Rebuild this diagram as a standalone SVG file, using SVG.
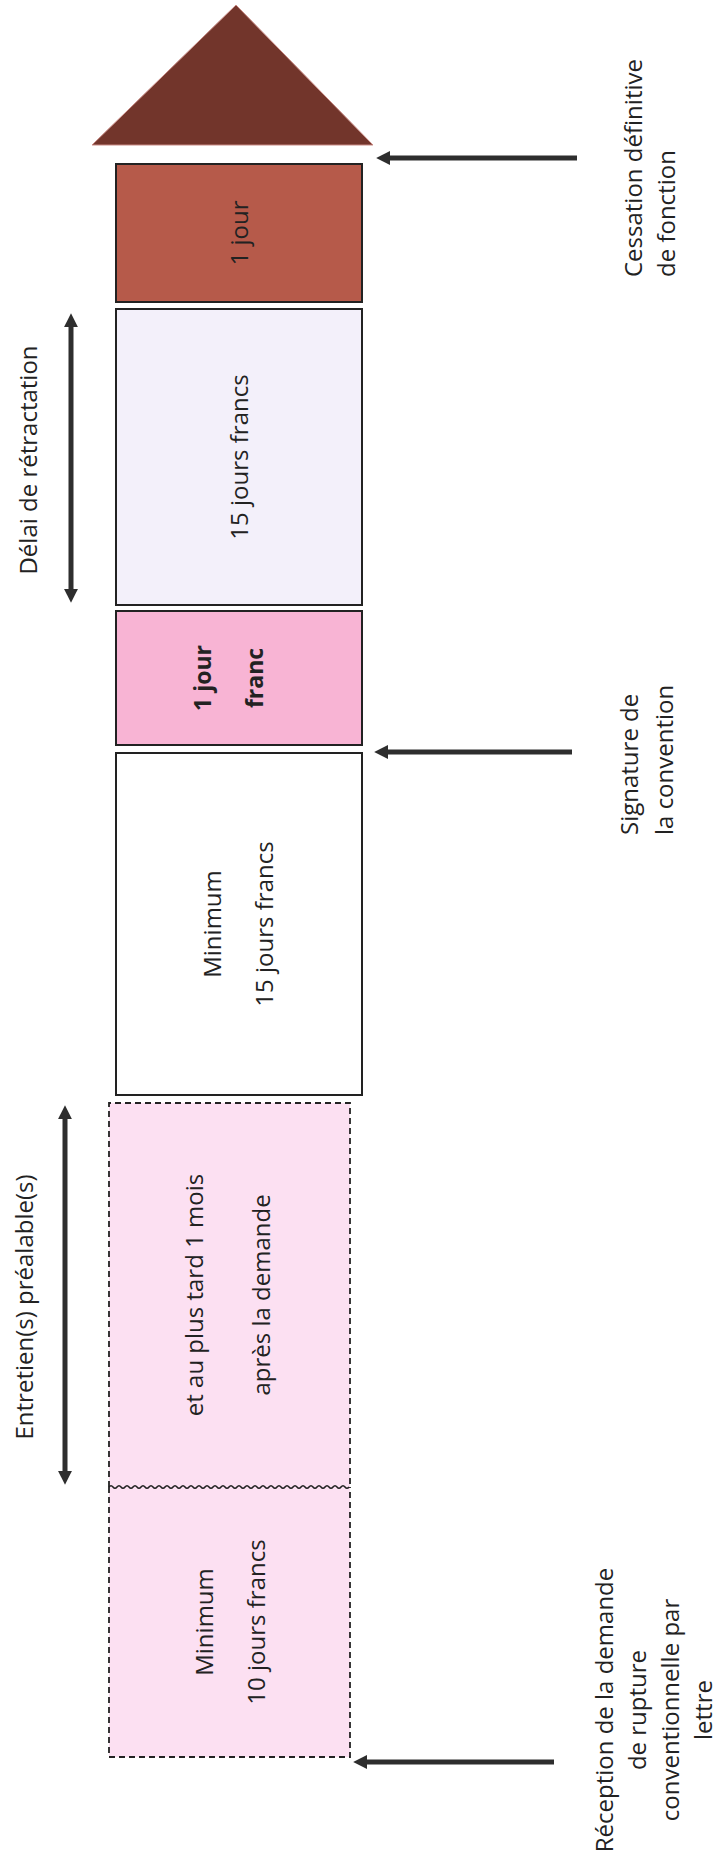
<svg xmlns="http://www.w3.org/2000/svg" width="723" height="1866" viewBox="0 0 723 1866">
<style>
.t{font-family:"Open Sans","Noto Sans","Liberation Sans",sans-serif;font-size:24px;fill:#222}
.b{font-weight:bold;font-size:23px}
.box{stroke:#222;stroke-width:2}
.dash{fill:none;stroke:#222;stroke-width:1.8;stroke-dasharray:6 4}
.arr{stroke:#2e2e2e;stroke-width:5;fill:none}
</style>
<defs>
<marker id="ah" viewBox="0 0 12 12" refX="1" refY="6" markerWidth="14" markerHeight="14" markerUnits="userSpaceOnUse" orient="auto-start-reverse">
<path d="M0,0 L12,6 L0,12 z" fill="#2e2e2e"/>
</marker>
</defs>
<rect width="723" height="1866" fill="#ffffff"/>

<g id="roof">
<polygon points="236,5 373,145 92,145" fill="#72352b" stroke="#c98a84" stroke-width="1"/>
</g>

<g id="box-1jour">
<rect class="box" x="116" y="164" width="246" height="138" fill="#b65a4a"/>
<text class="t" text-anchor="middle" transform="translate(248,233) rotate(-90)" fill="#2a1510">1 jour</text>
</g>

<g id="box-15jours">
<rect class="box" x="116" y="309" width="246" height="296" fill="#f3f0fa"/>
<text class="t" text-anchor="middle" transform="translate(248,457) rotate(-90)">15 jours francs</text>
</g>

<g id="box-1jourfranc">
<rect class="box" x="116" y="611" width="246" height="134" fill="#f8b4d4"/>
<text class="t b" text-anchor="middle" transform="translate(211,678) rotate(-90)"><tspan x="0" y="0">1 jour</tspan><tspan x="0" y="52">franc</tspan></text>
</g>

<g id="box-min15">
<rect class="box" x="116" y="753" width="246" height="342" fill="#ffffff"/>
<text class="t" text-anchor="middle" transform="translate(221,924) rotate(-90)"><tspan x="0" y="0">Minimum</tspan><tspan x="0" y="52">15 jours francs</tspan></text>
</g>

<g id="box-1mois">
<rect x="109" y="1103" width="241" height="384" fill="#fce0f2"/>
<path class="dash" d="M109,1487 V1103 H350 V1487"/>
<text class="t" text-anchor="middle" transform="translate(203,1295) rotate(-90)"><tspan x="0" y="0">et au plus tard 1 mois</tspan><tspan x="0" y="67">après la demande</tspan></text>
</g>

<g id="box-min10">
<rect x="109" y="1487" width="241" height="270" fill="#fce0f2"/>
<path class="dash" d="M109,1487 V1757 H350 V1487"/>
<path d="M109,1487 q2,-2.5 4,0 t4,0 t4,0 t4,0 t4,0 t4,0 t4,0 t4,0 t4,0 t4,0 t4,0 t4,0 t4,0 t4,0 t4,0 t4,0 t4,0 t4,0 t4,0 t4,0 t4,0 t4,0 t4,0 t4,0 t4,0 t4,0 t4,0 t4,0 t4,0 t4,0 t4,0 t4,0 t4,0 t4,0 t4,0 t4,0 t4,0 t4,0 t4,0 t4,0 t4,0 t4,0 t4,0 t4,0 t4,0 t4,0 t4,0 t4,0 t4,0 t4,0 t4,0 t4,0 t4,0 t4,0 t4,0 t4,0 t4,0 t4,0 t4,0 t4,0" fill="none" stroke="#222" stroke-width="1.6"/>
<text class="t" text-anchor="middle" transform="translate(213,1622) rotate(-90)"><tspan x="0" y="0">Minimum</tspan><tspan x="0" y="52">10 jours francs</tspan></text>
</g>

<g id="label-cessation">
<text class="t" transform="translate(642,277) rotate(-90)"><tspan x="0" y="0">Cessation définitive</tspan><tspan x="0" y="33">de fonction</tspan></text>
</g>
<g id="label-signature">
<text class="t" transform="translate(638,835) rotate(-90)"><tspan x="0" y="0">Signature de</tspan><tspan x="0" y="35">la convention</tspan></text>
</g>
<g id="label-reception">
<text class="t" text-anchor="middle" transform="translate(613,1710) rotate(-90)"><tspan x="0" y="0">Réception de la demande</tspan><tspan x="0" y="33">de rupture</tspan><tspan x="0" y="66">conventionnelle par</tspan><tspan x="0" y="99">lettre</tspan></text>
</g>
<g id="label-delai">
<text class="t" text-anchor="middle" transform="translate(37,460) rotate(-90)">Délai de rétractation</text>
</g>
<g id="label-entretien">
<text class="t" text-anchor="middle" transform="translate(33,1307) rotate(-90)">Entretien(s) préalable(s)</text>
</g>

<g id="connectors">
<line class="arr" x1="577" y1="158" x2="389" y2="158" marker-end="url(#ah)"/>
<line class="arr" x1="572" y1="752" x2="387" y2="752" marker-end="url(#ah)"/>
<line class="arr" x1="554" y1="1762" x2="366" y2="1762" marker-end="url(#ah)"/>
<line class="arr" x1="71" y1="326" x2="71" y2="590" marker-start="url(#ah)" marker-end="url(#ah)"/>
<line class="arr" x1="65" y1="1118" x2="65" y2="1472" marker-start="url(#ah)" marker-end="url(#ah)"/>
</g>
</svg>
